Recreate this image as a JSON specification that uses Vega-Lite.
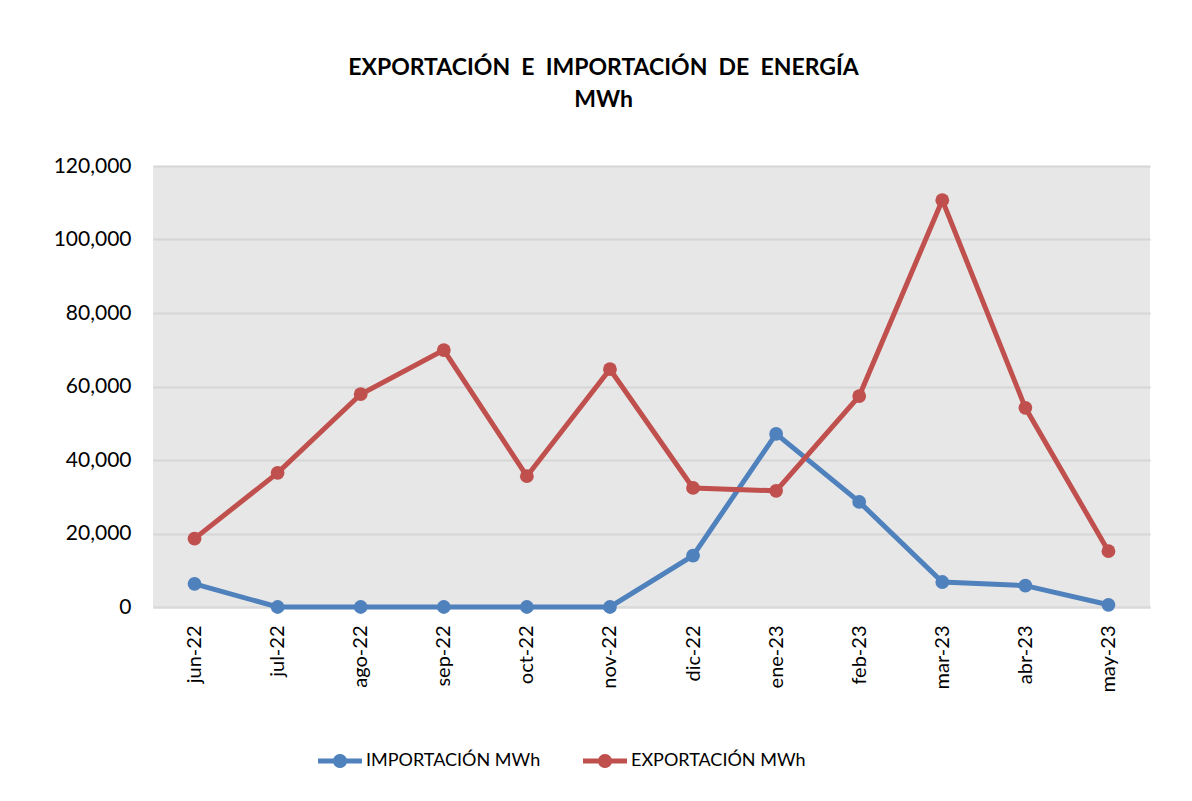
{
  "$schema": "https://vega.github.io/schema/vega-lite/v6.json",
  "autosize": "none",
  "width": 997,
  "height": 441,
  "padding": {"left": 153, "top": 166, "right": 42, "bottom": 194},
  "background": "white",
  "title": {
    "text": ["EXPORTACIÓN\u00a0\u00a0E\u00a0\u00a0IMPORTACIÓN\u00a0\u00a0DE\u00a0\u00a0ENERGÍA", "MWh"],
    "font": "Lato",
    "fontSize": 23,
    "fontWeight": "bold",
    "color": "#000000",
    "anchor": "middle",
    "frame": "group",
    "dx": -48,
    "lineHeight": 32,
    "offset": 43
  },
  "data": {
    "values": [
      {"mes": "jun-22", "serie": "IMPORTACIÓN MWh", "valor": 6300},
      {"mes": "jul-22", "serie": "IMPORTACIÓN MWh", "valor": 0},
      {"mes": "ago-22", "serie": "IMPORTACIÓN MWh", "valor": 0},
      {"mes": "sep-22", "serie": "IMPORTACIÓN MWh", "valor": 0},
      {"mes": "oct-22", "serie": "IMPORTACIÓN MWh", "valor": 0},
      {"mes": "nov-22", "serie": "IMPORTACIÓN MWh", "valor": 0},
      {"mes": "dic-22", "serie": "IMPORTACIÓN MWh", "valor": 14000},
      {"mes": "ene-23", "serie": "IMPORTACIÓN MWh", "valor": 47100},
      {"mes": "feb-23", "serie": "IMPORTACIÓN MWh", "valor": 28600},
      {"mes": "mar-23", "serie": "IMPORTACIÓN MWh", "valor": 6800},
      {"mes": "abr-23", "serie": "IMPORTACIÓN MWh", "valor": 5800},
      {"mes": "may-23", "serie": "IMPORTACIÓN MWh", "valor": 600},
      {"mes": "jun-22", "serie": "EXPORTACIÓN MWh", "valor": 18600},
      {"mes": "jul-22", "serie": "EXPORTACIÓN MWh", "valor": 36500},
      {"mes": "ago-22", "serie": "EXPORTACIÓN MWh", "valor": 57900},
      {"mes": "sep-22", "serie": "EXPORTACIÓN MWh", "valor": 69900},
      {"mes": "oct-22", "serie": "EXPORTACIÓN MWh", "valor": 35600},
      {"mes": "nov-22", "serie": "EXPORTACIÓN MWh", "valor": 64700},
      {"mes": "dic-22", "serie": "EXPORTACIÓN MWh", "valor": 32400},
      {"mes": "ene-23", "serie": "EXPORTACIÓN MWh", "valor": 31600},
      {"mes": "feb-23", "serie": "EXPORTACIÓN MWh", "valor": 57400},
      {"mes": "mar-23", "serie": "EXPORTACIÓN MWh", "valor": 110700},
      {"mes": "abr-23", "serie": "EXPORTACIÓN MWh", "valor": 54200},
      {"mes": "may-23", "serie": "EXPORTACIÓN MWh", "valor": 15200}
    ]
  },
  "mark": {
    "type": "line",
    "strokeWidth": 5,
    "point": {"filled": true, "size": 190, "opacity": 1}
  },
  "encoding": {
    "x": {
      "field": "mes",
      "type": "ordinal",
      "sort": null,
      "scale": {"type": "point", "padding": 0.5},
      "axis": {
        "title": null,
        "labelAngle": -90,
        "labelFont": "Lato",
        "labelFontSize": 20,
        "labelColor": "#000000",
        "ticks": false,
        "tickSize": 0,
        "labelPadding": 18,
        "domain": true,
        "domainColor": "#d9d9d9",
        "domainWidth": 2,
        "grid": false
      }
    },
    "y": {
      "field": "valor",
      "type": "quantitative",
      "scale": {"domain": [0, 120000]},
      "axis": {
        "title": null,
        "values": [0, 20000, 40000, 60000, 80000, 100000, 120000],
        "format": ",.0f",
        "labelFont": "Lato",
        "labelFontSize": 21,
        "labelColor": "#000000",
        "ticks": false,
        "tickSize": 0,
        "labelPadding": 22,
        "domain": false,
        "grid": true,
        "gridColor": "#d6d6d6",
        "gridWidth": 2
      }
    },
    "color": {
      "field": "serie",
      "type": "nominal",
      "scale": {
        "domain": ["IMPORTACIÓN MWh", "EXPORTACIÓN MWh"],
        "range": ["#4f81bd", "#c0504d"]
      },
      "legend": {
        "title": null,
        "orient": "none",
        "direction": "horizontal",
        "legendX": 165,
        "legendY": 573,
        "labelFont": "Lato",
        "labelFontSize": 18,
        "labelColor": "#000000",
        "labelLimit": 400,
        "labelOffset": 4,
        "columnPadding": 42,
        "symbolType": "M-1,-0.11 L-0.3005,-0.11 A0.32,0.32 0 0 1 0.3005,-0.11 L1,-0.11 L1,0.11 L0.3005,0.11 A0.32,0.32 0 0 1 -0.3005,0.11 L-1,0.11 Z",
        "symbolSize": 1936,
        "symbolStrokeWidth": 0,
        "encode": {
          "symbols": {
            "update": {
              "fill": {"scale": "color", "field": "value"},
              "strokeWidth": {"value": 0}
            }
          }
        }
      }
    },
    "order": {"field": "serie", "sort": "descending"}
  },
  "config": {
    "view": {"fill": "#e7e7e7", "stroke": null}
  }
}
